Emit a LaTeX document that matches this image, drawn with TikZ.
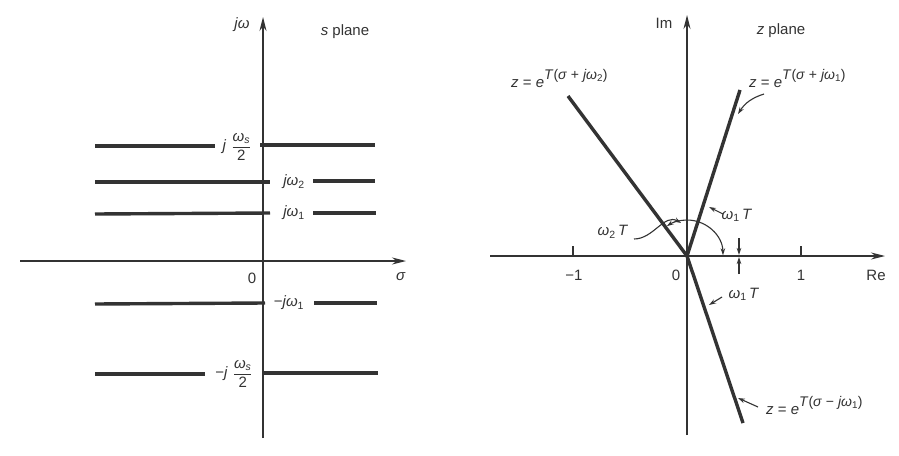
\documentclass[tikz,border=0pt]{standalone}
\usepackage{fontspec}
\setmainfont{Liberation Sans}
\usetikzlibrary{arrows.meta}
\definecolor{ink}{HTML}{333333}
\newcommand{\zexp}[1]{\raisebox{0.95ex}{\fontsize{14}{15}\selectfont #1}}
\newcommand{\wsfrac}{$\displaystyle\frac{\hbox{\textit{ω}\textsubscript{\textit{s}}}}{\hbox{2}}$}
\begin{document}
\begin{tikzpicture}[x=1pt,y=-1pt,
  axis/.style={draw=ink, line width=1.4pt},
  axarrow/.style={-{Stealth[length=14pt,width=7pt]}},
  thickln/.style={draw=ink, line width=3.4pt, line cap=butt},
  zline/.style={draw=ink, line width=3.4pt, line join=round},
  lbl/.style={text=ink, font=\fontsize{15}{17}\selectfont, inner sep=0pt},
  lead/.style={draw=ink, line width=1.1pt, -{Stealth[length=7pt,width=4.5pt]}},
  twoarc/.style={draw=ink, line width=1.1pt, {Stealth[length=7pt,width=4.5pt]}-{Stealth[length=7pt,width=4.5pt]}},
]
\useasboundingbox[fill=white] (0,0) rectangle (899,455);

% ---------- s plane ----------
\coordinate (jwBot) at (263,438);
\coordinate (jwTop) at (263,17);
\coordinate (sigL) at (20,261);
\coordinate (sigR) at (406,261);
\draw[axis,axarrow] (jwBot) -- (jwTop);
\draw[axis,axarrow] (sigL) -- (sigR);
\node[lbl] (jwlab) at (242,25) {\textit{jω}};
\node[lbl] (splane) at (345,32) {\textit{s} plane};
\node[lbl] (szero) at (252,278) {0};
\node[lbl] (sigma) at (401,277) {\textit{σ}};

% line j ws/2
\coordinate (a1) at (95,146); \coordinate (a2) at (215,146);
\coordinate (a3) at (260,145); \coordinate (a4) at (375,145);
\draw[thickln] (a1) -- (a2); \draw[thickln] (a3) -- (a4);
\node[lbl] (lab1) at (237,147) {\textit{j}\,\,\wsfrac};
% line j w2
\coordinate (b1) at (95,182); \coordinate (b2) at (270,182);
\coordinate (b3) at (313,181); \coordinate (b4) at (375,181);
\draw[thickln] (b1) -- (b2); \draw[thickln] (b3) -- (b4);
\node[lbl] (lab2) at (294,182) {\textit{jω}\textsubscript{2}};
% line j w1
\coordinate (c1) at (95,214); \coordinate (c2) at (270,213);
\coordinate (c3) at (313,213); \coordinate (c4) at (376,213);
\draw[thickln] (c1) -- (c2); \draw[thickln] (c3) -- (c4);
\node[lbl] (lab3) at (294,213) {\textit{jω}\textsubscript{1}};
% line -j w1
\coordinate (d1) at (95,304); \coordinate (d2) at (265,303);
\coordinate (d3) at (314,303); \coordinate (d4) at (377,303);
\draw[thickln] (d1) -- (d2); \draw[thickln] (d3) -- (d4);
\node[lbl] (lab4) at (289,303) {−\textit{jω}\textsubscript{1}};
% line -j ws/2
\coordinate (e1) at (95,374); \coordinate (e2) at (205,374);
\coordinate (e3) at (264,373); \coordinate (e4) at (378,373);
\draw[thickln] (e1) -- (e2); \draw[thickln] (e3) -- (e4);
\node[lbl] (lab5) at (234,374) {−\textit{j}\,\,\wsfrac};

% ---------- z plane ----------
\coordinate (zO) at (687,256);
\coordinate (imBot) at (687,435);
\coordinate (imTop) at (687,15);
\coordinate (reL) at (490,256);
\coordinate (reR) at (885,256);
\draw[axis,axarrow] (imBot) -- (imTop);
\draw[axis,axarrow] (reL) -- (reR);
\coordinate (tm1) at (573,256); \coordinate (tm1t) at (573,246);
\coordinate (tp1) at (801,256); \coordinate (tp1t) at (801,246);
\draw[axis] (tm1) -- (tm1t);
\draw[axis] (tp1) -- (tp1t);
\node[lbl] (imlab) at (664,23) {Im};
\node[lbl] (zplane) at (781,31) {\textit{z} plane};
\node[lbl] (m1) at (574,275) {−1};
\node[lbl] (z0) at (676,275) {0};
\node[lbl] (p1) at (801,275) {1};
\node[lbl] (relab) at (876,275) {Re};

\coordinate (w2end) at (568,96);
\coordinate (w1end) at (740,90);
\coordinate (mw1end) at (743,423);
\draw[zline] (zO) -- (w2end);
\draw[zline] (w1end) -- (zO) -- (mw1end);

% labels on lines
\node[lbl, anchor=base west] (zl2) at (511,87) {\textit{z} = \textit{e}\zexp{\textit{T}(\textit{σ} + \textit{jω}\textsubscript{2})}};
\node[lbl, anchor=base west] (zl1) at (749,87) {\textit{z} = \textit{e}\zexp{\textit{T}(\textit{σ} + \textit{jω}\textsubscript{1})}};
\node[lbl, anchor=base west] (zl3) at (766,414) {\textit{z} = \textit{e}\zexp{\textit{T}(\textit{σ} − \textit{jω}\textsubscript{1})}};

\coordinate (zl1s) at (764,94); \coordinate (zl1e) at (738,114);
\draw[lead] (zl1s) to[bend right=20] (zl1e);
\coordinate (zl3s) at (758,407); \coordinate (zl3e) at (738,398);
\draw[lead] (zl3s) -- (zl3e);

% angle marks
\draw[twoarc] ([shift={(-1:36)}]zO) arc[start angle=-1, end angle=-124, radius=36];

\node[lbl] (w2T) at (613,232) {\textit{ω}\textsubscript{2}\,\textit{T}};
\coordinate (w2Ts) at (634,239); \coordinate (w2Te) at (681,223);
\draw[lead] (w2Ts) to[out=0,in=150] (w2Te);

\node[lbl] (w1Tu) at (737,215) {\textit{ω}\textsubscript{1}\,\textit{T}};
\coordinate (w1us) at (723,214); \coordinate (w1ue) at (709,207);
\draw[lead] (w1us) -- (w1ue);
\coordinate (vus) at (739,238); \coordinate (vue) at (739,255);
\draw[lead] (vus) -- (vue);
\coordinate (vls) at (739,274); \coordinate (vle) at (739,257);
\draw[lead] (vls) -- (vle);

\node[lbl] (w1Tl) at (744,294) {\textit{ω}\textsubscript{1}\,\textit{T}};
\coordinate (w1ls) at (722,297); \coordinate (w1le) at (709,305);
\draw[lead] (w1ls) -- (w1le);
\end{tikzpicture}
\end{document}
